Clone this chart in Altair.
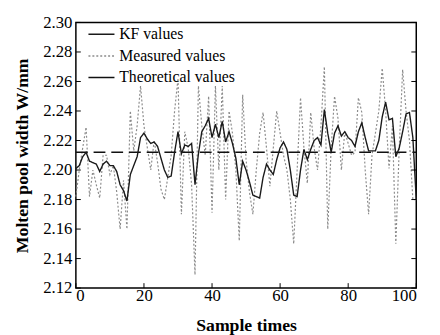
import altair as alt
import pandas as pd

samples = list(range(101))

kf_values = [
    2.201, 2.203, 2.209, 2.212, 2.206, 2.205, 2.204, 2.199, 2.204, 2.206,
    2.203, 2.203, 2.199, 2.190, 2.186, 2.179, 2.197, 2.203, 2.209, 2.222,
    2.225, 2.221, 2.218, 2.219, 2.216, 2.208, 2.200, 2.195, 2.196, 2.212,
    2.226, 2.211, 2.217, 2.216, 2.218, 2.190, 2.211, 2.226, 2.230, 2.235,
    2.222, 2.231, 2.222, 2.233, 2.219, 2.226, 2.218, 2.208, 2.190, 2.206,
    2.200, 2.192, 2.183, 2.182, 2.181, 2.195, 2.204, 2.200, 2.197, 2.207,
    2.215, 2.219, 2.214, 2.200, 2.183, 2.182, 2.200, 2.214, 2.207, 2.214,
    2.220, 2.222, 2.217, 2.241, 2.225, 2.212, 2.225, 2.230, 2.223, 2.226,
    2.222, 2.220, 2.216, 2.226, 2.232, 2.222, 2.213, 2.213, 2.213, 2.220,
    2.236, 2.246, 2.234, 2.235, 2.209, 2.215, 2.226, 2.238, 2.239, 2.222,
    2.180,
]

measured_values = [
    2.182, 2.200, 2.215, 2.229, 2.182, 2.200, 2.190, 2.181, 2.210, 2.210,
    2.197, 2.203, 2.185, 2.160, 2.193, 2.160, 2.240, 2.213, 2.230, 2.257,
    2.230, 2.215, 2.200, 2.220, 2.205, 2.187, 2.180, 2.195, 2.210, 2.240,
    2.262, 2.170, 2.226, 2.215, 2.190, 2.129, 2.257, 2.230, 2.210, 2.250,
    2.171, 2.257, 2.200, 2.257, 2.180, 2.240, 2.225, 2.200, 2.152, 2.251,
    2.207, 2.185, 2.170, 2.200, 2.225, 2.239, 2.215, 2.189, 2.215, 2.240,
    2.225, 2.210, 2.200, 2.180, 2.150, 2.200, 2.249, 2.215, 2.191, 2.239,
    2.215, 2.200, 2.230, 2.270, 2.160, 2.215, 2.250, 2.235, 2.200, 2.226,
    2.218, 2.210, 2.212, 2.249, 2.239, 2.200, 2.170, 2.210, 2.225, 2.240,
    2.269, 2.240, 2.201, 2.230, 2.150, 2.215, 2.268, 2.240, 2.220, 2.180,
    2.180,
]

theoretical_value = 2.212
theoretical_x = [0, 100]

series_names = ["KF values", "Measured values", "Theoretical values"]
series_colors = ["#1a1a1a", "#8c8c8c", "#111111"]
series_dash = [[1, 0], [2, 2], [1, 0]]

x_ticks = [0, 20, 40, 60, 80, 100]
y_ticks = [2.12, 2.14, 2.16, 2.18, 2.20, 2.22, 2.24, 2.26, 2.28, 2.30]

W, H = 346, 270
FONT = "Liberation Serif"

kf_df = pd.DataFrame({"x": samples, "y": kf_values, "series": series_names[0]})
meas_df = pd.DataFrame({"x": samples, "y": measured_values, "series": series_names[1]})
theo_df = pd.DataFrame({"x": theoretical_x, "y": [theoretical_value] * 2, "series": series_names[2]})
xt_df = pd.DataFrame({"x": x_ticks})
yt_df = pd.DataFrame({"y": y_ticks})

xscale = alt.Scale(domain=[0, 100], nice=False, zero=False)
yscale = alt.Scale(domain=[2.12, 2.30], nice=False, zero=False)

color = alt.Color(
    "series:N",
    scale=alt.Scale(domain=series_names, range=series_colors),
    legend=alt.Legend(
        title=None,
        orient="none",
        legendX=12,
        legendY=-2,
        padding=0,
        symbolType="stroke",
        symbolSize=700,
        symbolStrokeWidth=1.5,
        labelFont=FONT,
        labelFontSize=16,
        labelColor="black",
        labelOffset=4,
        rowPadding=-7,
    ),
)
dash = alt.StrokeDash(
    "series:N",
    scale=alt.Scale(domain=series_names, range=series_dash),
)

xaxis = alt.Axis(
    values=x_ticks, title="Sample times", ticks=False, grid=False, domain=False,
    labelFont=FONT, labelFontSize=17, labelColor="black", labelPadding=0,
    labelOverlap=False,
    titleFont=FONT, titleFontSize=18, titleFontWeight="bold", titleColor="black",
    titlePadding=13,
)
yaxis = alt.Axis(
    values=y_ticks, format=".2f", title="Molten pool width W/mm", ticks=False,
    grid=False, domain=False, labelOverlap=False,
    labelFont=FONT, labelFontSize=17, labelColor="black", labelPadding=4,
    titleFont=FONT, titleFontSize=18, titleFontWeight="bold", titleColor="black",
    titlePadding=11,
)


def xenc(field="x"):
    return alt.X(f"{field}:Q", scale=xscale, axis=xaxis)


def yenc(field="y"):
    return alt.Y(f"{field}:Q", scale=yscale, axis=yaxis)


meas_layer = alt.Chart(meas_df).mark_line(strokeWidth=1.2).encode(
    x=xenc(), y=yenc(), color=color, strokeDash=dash
)
theo_layer = alt.Chart(theo_df).mark_line(strokeWidth=1.5, strokeDash=[12, 6]).encode(
    x=xenc(), y=yenc(), color=color
)
kf_layer = alt.Chart(kf_df).mark_line(strokeWidth=1.4).encode(
    x=xenc(), y=yenc(), color=color, strokeDash=dash
)

xtick_layer = alt.Chart(xt_df).mark_rule(color="black", strokeWidth=1).encode(
    x=xenc(), y=alt.value(H), y2=alt.value(H - 5)
)
ytick_layer = alt.Chart(yt_df).mark_rule(color="black", strokeWidth=1).encode(
    y=yenc(), x=alt.value(0), x2=alt.value(5)
)
ytick_right = alt.Chart(yt_df).mark_rule(color="black", strokeWidth=1).encode(
    y=yenc(), x=alt.value(W), x2=alt.value(W - 5)
)

chart = alt.layer(
    meas_layer, theo_layer, kf_layer, xtick_layer, ytick_layer, ytick_right
).properties(
    width=W,
    height=H,
    autosize=alt.AutoSizeParams(type="none"),
    padding={"left": 69, "top": 12, "right": 16, "bottom": 45},
    background="white",
).configure_view(
    stroke="black", strokeWidth=1.5
)

chart.save("out.html", embed_options={"renderer": "svg", "actions": False})
